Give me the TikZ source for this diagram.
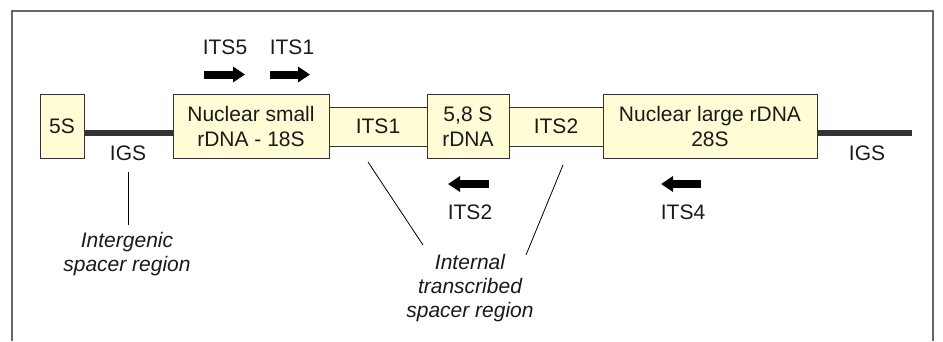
\documentclass[tikz,border=0pt]{standalone}
\usepackage{fontspec}
\setmainfont{Liberation Sans}
\usetikzlibrary{calc, arrows.meta}
\definecolor{bx}{RGB}{255, 252, 214}
\definecolor{g}{HTML}{333333}
\definecolor{fr}{HTML}{666666}
\definecolor{tx}{HTML}{1a1a1a}

\begin{document}
\begin{tikzpicture}[x=1pt, y=-1pt,
		gene/.style={draw=g, line width=1pt, fill=bx, inner sep=0pt, align=center, text=tx,
				font=\fontsize{21}{25}\selectfont},
		lbl/.style={inner sep=0pt, text=tx, font=\fontsize{21}{24}\selectfont},
		note/.style={inner sep=0pt, align=center, text=tx, font=\fontsize{21}{24}\selectfont\itshape},
		igs/.style={g, line width=6pt},
		primer/.style={line width=8pt, -{Triangle[length=12pt, width=15pt]}}]
			\useasboundingbox (0,0) rectangle (943,341);

			% Draw frame (open at the bottom)
			\draw[fr, line width=1.2pt] (12,341) -- (12,11) -- (933,11) -- (933,341);

			% Draw spacers between the genes
			\node[gene, minimum width=98pt, minimum height=39pt] (its1) at (378,126.5) {ITS1};
			\node[gene, minimum width=94pt, minimum height=39pt] (its2) at (556,126.5) {ITS2};

			% Draw gene boxes
			\node[gene, minimum width=44pt, minimum height=64pt] (s5) at (62,126.5) {5S};
			\node[gene, minimum width=156pt, minimum height=64pt] (s18) at (251,126.5) {Nuclear small\\rDNA - 18S};
			\node[gene, minimum width=82pt, minimum height=64pt] (s58) at (468,126.5) {5,8 S\\rDNA};
			\node[gene, minimum width=214pt, minimum height=64pt] (s28) at (710,126.5) {Nuclear large rDNA\\28S};

			% Intergenic spacer lines
			\coordinate (igsend) at (912,133);
			\draw[igs] (s5.east |- igsend) -- (s18.west |- igsend);
			\draw[igs] (s28.east |- igsend) -- (igsend);
			\node[lbl] (igsa) at (128,153) {IGS};
			\node[lbl] (igsb) at (867,153) {IGS};

			% Primer labels and arrows
			\node[lbl] (its5p) at (225,47) {ITS5};
			\node[lbl] (its1p) at (292,47) {ITS1};
			\node[lbl] (its2p) at (470,212) {ITS2};
			\node[lbl] (its4p) at (683,212) {ITS4};
			\draw[primer] ($(its5p)+(-21,27.5)$) -- ($(its5p)+(20,27.5)$);
			\draw[primer] ($(its1p)+(-22,27.5)$) -- ($(its1p)+(18,27.5)$);
			\draw[primer] ($(its2p)+(19,-28)$) -- ($(its2p)+(-22,-28)$);
			\draw[primer] ($(its4p)+(18,-28)$) -- ($(its4p)+(-22,-28)$);

			% Region notes
			\node[note] (igr) at (127,254) {Intergenic\\spacer region};
			\node[note] (itr) at (470,288) {Internal\\transcribed\\spacer region};
			\draw[line width=0.8pt] (igsa.south |- 0,172) -- (igsa.south |- 0,225);
			\coordinate (la) at (368,162);
			\coordinate (ra) at (563,165);
			\draw[line width=0.8pt] (la) -- (423,245);
			\draw[line width=0.8pt] (ra) -- (526,255);
		\end{tikzpicture}
\end{document}
